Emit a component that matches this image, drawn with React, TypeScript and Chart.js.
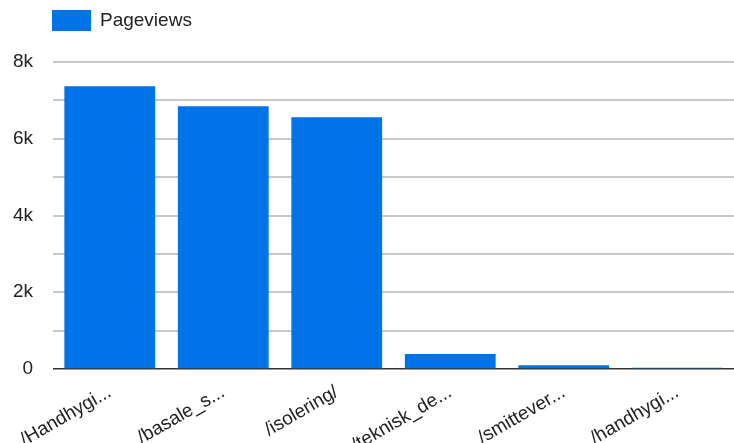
import React, { useEffect, useRef } from 'react';
import { Chart, registerables } from 'chart.js';

Chart.register(...registerables);

const pages = ['/Handhygi...', '/basale_s...', '/isolering/', '/teknisk_de...', '/smittever...', '/handhygi...'];
const pageviews = [7370, 6850, 6560, 390, 100, 30];
const yTicks = [0, 2000, 4000, 6000, 8000];

const FONT = '"Liberation Sans", Arial, sans-serif';
const BLUE = '#0073e9';

// simple legend drawn at the top left, lined up with the plot
const topLegend = {
    id: 'topLegend',
    afterDraw(chart: any) {
        const ctx = chart.ctx;
        const ds = chart.data.datasets[0];
        const left = chart.chartArea.left - 1;
        ctx.save();
        ctx.fillStyle = ds.backgroundColor;
        ctx.fillRect(left, 10, 39, 21);
        ctx.fillStyle = '#222';
        ctx.font = '19px ' + FONT;
        ctx.textBaseline = 'middle';
        ctx.fillText(ds.label, left + 48, 21);
        ctx.restore();
    }
};

const App = () => {
    const chartRef = useRef<HTMLCanvasElement>(null);

    useEffect(() => {
        if (chartRef.current == null) return;
        const ctx = chartRef.current.getContext('2d');
        if (ctx == null) return;
        const myChart = new Chart(ctx, {
            type: 'bar',
            data: {
                labels: pages,
                datasets: [{
                    label: 'Pageviews',
                    data: pageviews,
                    backgroundColor: BLUE,
                    barPercentage: 0.8,
                    categoryPercentage: 1,
                }]
            },
            options: {
                animation: false,
                responsive: true,
                maintainAspectRatio: false,
                layout: { padding: { top: 62, right: 0, left: 0, bottom: 0 } },
                plugins: {
                    legend: { display: false },
                    tooltip: { enabled: false },
                },
                scales: {
                    x: {
                        grid: { display: false },
                        border: { display: false },
                        ticks: {
                            autoSkip: false,
                            minRotation: 30,
                            maxRotation: 30,
                            color: '#222',
                            font: { family: FONT, size: 19 },
                            padding: 4,
                        },
                        afterFit: (scale: any) => { scale.height = 74; },
                    },
                    y: {
                        min: 0,
                        max: 8000,
                        border: { display: false },
                        grid: {
                            drawTicks: false,
                            color: (c: any) => c.tick && c.tick.value === 0 ? '#333' : '#c8c8c8',
                            lineWidth: (c: any) => c.tick && c.tick.value === 0 ? 1.5 : 2,
                        },
                        ticks: {
                            stepSize: 1000,
                            padding: 20,
                            color: '#222',
                            font: { family: FONT, size: 19 },
                            callback: (v: any) => yTicks.includes(Number(v)) ? (Number(v) === 0 ? '0' : Number(v) / 1000 + 'k') : '',
                        },
                        afterFit: (scale: any) => { scale.width = 53; },
                    }
                }
            },
            plugins: [topLegend],
        });
        return () => {
            myChart.destroy();
        };
    }, []);

    return (
        <div style={{ position: 'absolute', left: 0, top: 0, width: 734, height: 443, background: '#fff' }}>
            <canvas ref={chartRef} />
        </div>
    );
};

export default App;
